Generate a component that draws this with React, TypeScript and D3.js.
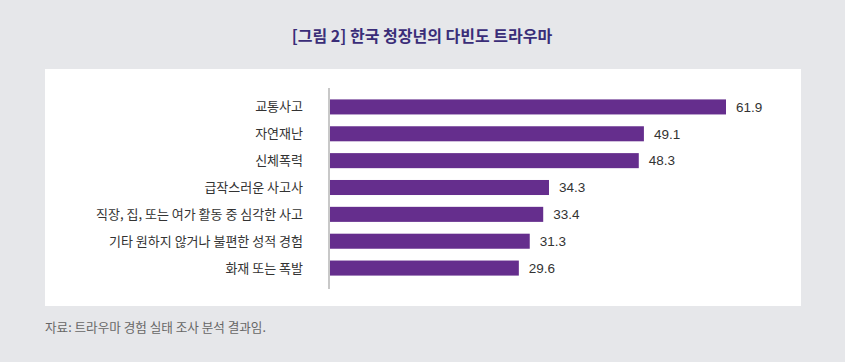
import React from "react";
import * as d3 from "d3";

const categories = [
  "교통사고",
  "자연재난",
  "신체폭력",
  "급작스러운 사고사",
  "직장, 집, 또는 여가 활동 중 심각한 사고",
  "기타 원하지 않거나 불편한 성적 경험",
  "화재 또는 폭발",
];
const values = [61.9, 49.1, 48.3, 34.3, 33.4, 31.3, 29.6];
const title = "[그림 2] 한국 청장년의 다빈도 트라우마";
const source = "자료: 트라우마 경험 실태 조사 분석 결과임.";

const W = 845;
const H = 362;
const FONT = "'Noto Sans CJK KR', 'Noto Sans', sans-serif";

export default function App() {
  const x = d3.scaleLinear().domain([0, 61.9]).range([329, 726]);
  const y = d3
    .scaleBand<string>()
    .domain(categories)
    .range([93.5, 281.5])
    .paddingInner(0.44)
    .paddingOuter(0.22);
  const bh = y.bandwidth();

  return (
    <svg
      width={W}
      height={H}
      style={{ position: "absolute", left: 0, top: 0, display: "block" }}
      fontFamily={FONT}
    >
      <rect x={0} y={0} width={W} height={H} fill="#e6e7ea" />
      <text
        x={422}
        y={42}
        textAnchor="middle"
        fontSize={16}
        fontWeight={700}
        fill="#3a2d78"
      >
        {title}
      </text>
      <rect x={45} y={69} width={756} height={237} fill="#ffffff" />
      {categories.map((c, i) => {
        const yy = y(c)!;
        return (
          <g key={c}>
            <rect x={x(0)} y={yy} width={x(values[i]) - x(0)} height={bh} fill="#652e8d" />
            <text
              x={303}
              y={yy + bh / 2}
              dy="0.35em"
              textAnchor="end"
              fontSize={13}
              fill="#333333"
            >
              {c}
            </text>
            <text
              x={x(values[i]) + 10}
              y={yy + bh / 2}
              dy="0.35em"
              textAnchor="start"
              fontSize={13.5}
              fill="#333333"
              fontFamily="'Liberation Sans', Arial, sans-serif"
            >
              {values[i].toFixed(1)}
            </text>
          </g>
        );
      })}
      <line x1={329} x2={329} y1={88} y2={289} stroke="#c8c8c8" strokeWidth={2} />
      <text x={45} y={332} fontSize={12.6} fill="#666666">
        {source}
      </text>
    </svg>
  );
}
